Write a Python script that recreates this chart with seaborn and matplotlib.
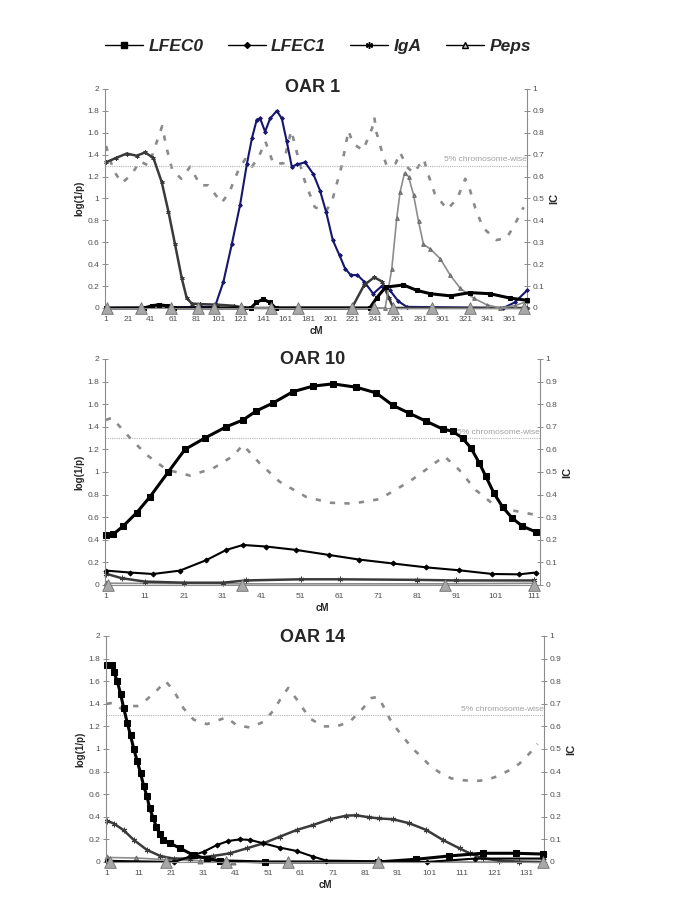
import numpy as np
import matplotlib
matplotlib.use('Agg')
import matplotlib.pyplot as plt
import seaborn as sns
from matplotlib.lines import Line2D
from matplotlib.ticker import FormatStrFormatter

sns.set_style('white')
plt.rcParams['font.family'] = ['Liberation Sans', 'DejaVu Sans']

# ---------------- OAR 1 ----------------
oar1_markers = [2, 32, 59, 83, 97, 121, 148, 172, 220, 240, 257, 291, 325, 373]
oar1_lfec0_cm = [1, 35, 42, 48, 55, 62, 130, 135, 141, 147, 152, 236, 242, 250, 266, 278, 290, 308, 325, 343, 361, 376]
oar1_lfec0 = [0, 0, 0.02, 0.03, 0.02, 0, 0, 0.05, 0.08, 0.05, 0, 0, 0.09, 0.19, 0.21, 0.16, 0.13, 0.11, 0.14, 0.13, 0.09, 0.07]
oar1_lfec1_cm = [1, 98, 105.6, 113, 120.4, 126.4, 131, 135.3, 138.3, 142.7, 147.2, 153.1, 157.6, 162, 166.5, 171,
                 178.4, 185.8, 191.7, 197, 203, 209, 214, 219, 225, 231, 239, 246.7, 254, 261.5, 269, 355, 365, 376]
oar1_lfec1 = [0, 0.01, 0.24, 0.58, 0.94, 1.31, 1.55, 1.72, 1.73, 1.61, 1.73, 1.80, 1.73, 1.52, 1.29, 1.31,
              1.33, 1.22, 1.07, 0.88, 0.62, 0.48, 0.36, 0.30, 0.30, 0.24, 0.13, 0.20, 0.16, 0.06, 0.01, 0, 0.05, 0.16]
oar1_iga_cm = [1, 10, 19.4, 28.3, 35.8, 43.2, 50.6, 56.6, 62.5, 68.5, 72.9, 77.4, 85, 100, 115, 125,
               220, 231, 240, 247, 253, 257, 376]
oar1_iga = [1.33, 1.37, 1.41, 1.39, 1.42, 1.37, 1.15, 0.88, 0.58, 0.27, 0.09, 0.04, 0.035, 0.03, 0.02, 0,
            0, 0.21, 0.28, 0.24, 0.09, 0, 0]
oar1_peps_cm = [1, 249.7, 255.6, 260, 263, 266.9, 270.5, 275, 279.4, 283.8, 289.8, 298.7, 307.6, 316.5,
                328.4, 340, 352, 365, 376]
oar1_peps = [0, 0, 0.36, 0.82, 1.06, 1.23, 1.20, 1.03, 0.79, 0.58, 0.54, 0.45, 0.30, 0.18,
             0.09, 0.03, 0, 0.02, 0.06]
oar1_ic_cm = [1, 7.5, 15, 24, 31, 39, 45, 51, 55, 60, 68, 76, 85, 92, 98, 104, 111, 119, 125, 131, 137, 143,
              150, 159, 166, 171, 178, 187, 197, 203, 211, 217, 221, 230, 238, 240, 242, 247, 251, 259, 263,
              269, 275, 284, 288, 294, 305, 314, 321, 324, 330, 337, 349, 358, 365, 373]
oar1_ic = [0.74, 0.63, 0.57, 0.61, 0.67, 0.65, 0.74, 0.83, 0.73, 0.63, 0.59, 0.645, 0.56, 0.56, 0.52, 0.48,
           0.53, 0.63, 0.68, 0.645, 0.69, 0.76, 0.66, 0.66, 0.81, 0.71, 0.58, 0.46, 0.44, 0.5, 0.65, 0.81,
           0.75, 0.72, 0.82, 0.87, 0.80, 0.71, 0.65, 0.66, 0.71, 0.645, 0.615, 0.68, 0.61, 0.52, 0.45, 0.50,
           0.59, 0.56, 0.455, 0.365, 0.31, 0.32, 0.38, 0.46]

# ---------------- OAR 10 ----------------
oar10_markers = [1.5, 36, 88, 111]
oar10_lfec0_cm = [1, 2.9, 5.4, 8.9, 12.3, 17, 21.3, 26.4, 31.9, 36.2, 39.6, 43.9, 49, 54.2, 59.3, 65.3, 70.4,
                  74.7, 78.9, 83.2, 87.5, 90.1, 92.6, 94.8, 96.9, 98.6, 100.7, 102.9, 105.4, 108, 111.4]
oar10_lfec0 = [0.44, 0.45, 0.52, 0.64, 0.78, 1.0, 1.2, 1.3, 1.4, 1.46, 1.54, 1.61, 1.71, 1.76, 1.78, 1.75, 1.70,
               1.59, 1.52, 1.45, 1.38, 1.36, 1.30, 1.21, 1.08, 0.96, 0.81, 0.69, 0.59, 0.52, 0.47]
oar10_lfec1_cm = [1, 7.2, 13.1, 20, 26.8, 31.9, 36.2, 42.2, 49.9, 58.4, 66, 74.7, 83.2, 91.7, 100.3, 107.1, 111.4]
oar10_lfec1 = [0.127, 0.11, 0.097, 0.127, 0.22, 0.31, 0.354, 0.34, 0.31, 0.265, 0.225, 0.19, 0.156, 0.13,
               0.097, 0.094, 0.11]
oar10_iga_cm = [1, 5, 11, 21, 31, 37, 51, 61, 81, 91, 111]
oar10_iga = [0.10, 0.06, 0.03, 0.02, 0.02, 0.04, 0.05, 0.05, 0.045, 0.04, 0.04]
oar10_peps_cm = [1, 36, 88, 111]
oar10_peps = [0.015, 0.01, 0.01, 0.015]
oar10_ic_cm = [1, 2.5, 7.2, 11.5, 16.6, 22.6, 28.5, 33.6, 36.2, 40.4, 45.6, 52.4, 58.4, 64.4, 71.3, 78.9,
               84, 87.9, 91.7, 96, 100.3, 105.4, 111.4]
oar10_ic = [0.73, 0.74, 0.65, 0.575, 0.51, 0.484, 0.516, 0.57, 0.62, 0.54, 0.457, 0.39, 0.364, 0.36, 0.38,
            0.457, 0.52, 0.57, 0.51, 0.42, 0.36, 0.33, 0.31]

# ---------------- OAR 14 ----------------
oar14_markers = [2, 19.5, 38, 57, 85, 136]
oar14_lfec0_cm = [1, 2.75, 3.25, 4.3, 5.3, 6.3, 7.4, 8.4, 9.4, 10.5, 11.5, 12.5, 13.5, 14.3, 15.4, 16.4, 17.4,
                  18.5, 20.7, 23.8, 27.9, 32, 36.2, 50, 85, 96.8, 107, 117.3, 127.6, 136]
oar14_lfec0 = [1.74, 1.74, 1.68, 1.60, 1.49, 1.36, 1.23, 1.12, 1.0, 0.89, 0.785, 0.67, 0.58, 0.475, 0.39, 0.31,
               0.25, 0.195, 0.165, 0.12, 0.06, 0.03, 0.01, 0, 0, 0.024, 0.053, 0.077, 0.077, 0.07]
oar14_lfec1_cm = [1, 22, 26.9, 31, 35.1, 38.7, 42.3, 45.4, 49.5, 54.6, 59.8, 64.9, 69, 100, 115, 136]
oar14_lfec1 = [0.01, 0, 0.05, 0.09, 0.15, 0.186, 0.2, 0.195, 0.165, 0.127, 0.097, 0.047, 0.012, 0, 0.03, 0.03]
oar14_iga_cm = [1, 3.25, 6.3, 9.4, 13.5, 17.6, 21.7, 26.9, 34, 39.2, 44.3, 49.5, 54.6, 59.8, 64.9, 70, 75.2,
                78.2, 82.3, 85.4, 89.6, 94.7, 99.9, 105, 110.2, 113.3, 117.4, 122.5, 128.7, 136]
oar14_iga = [0.366, 0.34, 0.28, 0.195, 0.106, 0.053, 0.03, 0.03, 0.053, 0.077, 0.12, 0.165, 0.224, 0.283,
             0.327, 0.378, 0.41, 0.413, 0.395, 0.385, 0.378, 0.342, 0.283, 0.195, 0.12, 0.077, 0.032, 0.012,
             0.003, 0]
oar14_peps_cm = [1, 10, 20, 30, 40, 136]
oar14_peps = [0.04, 0.035, 0.02, 0.01, 0, 0]
oar14_ic_cm = [1, 3.25, 5.3, 7.4, 10.5, 13.5, 16.6, 19.2, 21.7, 24.8, 27.9, 32, 36.1, 38.1, 41.2, 45.4, 49.5,
               52.6, 55.6, 57.2, 59.8, 63.9, 68, 72.1, 76.2, 80.3, 83, 85, 87.1, 88.6, 90.7, 93.2, 95.8, 98.4,
               100.9, 104, 107.6, 111.2, 114.8, 118.4, 122, 125.6, 128.7, 131.8, 134.3]
oar14_ic = [0.70, 0.705, 0.68, 0.69, 0.69, 0.72, 0.76, 0.80, 0.76, 0.68, 0.63, 0.61, 0.63, 0.64, 0.605, 0.595,
            0.62, 0.67, 0.74, 0.77, 0.72, 0.635, 0.60, 0.60, 0.62, 0.68, 0.726, 0.73, 0.677, 0.633, 0.59, 0.545,
            0.50, 0.465, 0.428, 0.396, 0.37, 0.362, 0.358, 0.362, 0.38, 0.406, 0.435, 0.48, 0.523]

threshold = 1.3

styles = {
    'LFEC0': dict(color='black', marker='s', markersize=4, linewidth=2.2, markeredgecolor='black'),
    'LFEC1': dict(color='black', marker='D', markersize=2.5, linewidth=1.5, markeredgecolor='black'),
    'IgA': dict(color='#3a3a3a', marker=(6, 2, 0), markersize=4, linewidth=1.8, markeredgecolor='#3a3a3a'),
    'Peps': dict(color='#8c8c8c', marker='^', markersize=3.5, linewidth=1.2, markeredgecolor='#6a6a6a'),
}


def draw_panel(ax, series, ic_cm, ic, markers, xlim, xticks, navy=False, ms_scale=1.0):
    ax2 = ax.twinx()
    sns.lineplot(x=ic_cm, y=ic, ax=ax2, color='#8a8a8a', linewidth=1.9,
                 linestyle=(0, (2, 3.5)), legend=False)
    ax.axhline(threshold, color='#b5b5b5', lw=0.8, ls=(0, (1, 1)))
    ax.text(xlim[1], threshold + 0.02, '5% chromosome-wise', ha='right', va='bottom',
            fontsize=6, color='#a0a0a0')
    for name, (x, y) in series.items():
        st = dict(styles[name])
        st['markersize'] *= ms_scale
        if navy and name == 'LFEC1':
            st['color'] = '#16166e'
            st['markeredgecolor'] = '#16166e'
        sns.lineplot(x=x, y=y, ax=ax, legend=False, clip_on=False, **st)
    sns.scatterplot(x=markers, y=[0] * len(markers), ax=ax, marker='^', s=70, color='#a8a8a8',
                    edgecolor='#6e6e6e', linewidth=0.6, zorder=5, clip_on=False, legend=False)

    ax.set_zorder(ax2.get_zorder() + 1)
    ax.patch.set_visible(False)
    ax.set_xlim(*xlim)
    ax.set_ylim(0, 2)
    ax2.set_ylim(0, 1)
    ax.set_xticks(xticks)
    ax.set_yticks(np.arange(0, 2.01, 0.2))
    ax2.set_yticks(np.arange(0, 1.01, 0.1))
    ax.yaxis.set_major_formatter(FormatStrFormatter('%g'))
    ax2.yaxis.set_major_formatter(FormatStrFormatter('%g'))
    for a in (ax, ax2):
        for s in a.spines.values():
            s.set_color('#8c8c8c')
            s.set_linewidth(0.8)
        a.spines['top'].set_visible(False)
    ax.spines['right'].set_visible(False)
    ax2.spines['left'].set_visible(False)
    ax2.spines['bottom'].set_visible(False)
    ax.tick_params(axis='y', direction='inout', length=4, width=0.7, color='#8c8c8c',
                   labelsize=6, labelcolor='#505050', pad=2)
    ax2.tick_params(axis='y', direction='inout', length=4, width=0.7, color='#8c8c8c',
                    labelsize=6, labelcolor='#505050', pad=2)
    ax.tick_params(axis='x', length=0, labelsize=6, labelcolor='#505050', pad=6)
    ax.set_xlabel('cM', fontsize=7, fontweight='bold', labelpad=2)
    ax.set_ylabel('log(1/p)', fontsize=7, fontweight='bold')
    ax.yaxis.set_label_coords(-0.048, 0.5)
    ax2.set_ylabel('IC', fontsize=8, fontweight='bold', rotation=90)
    ax2.yaxis.set_label_coords(1.052, 0.5)
    return ax2


fig = plt.figure(figsize=(6.85, 9.13), dpi=100)
ax1 = fig.add_axes([0.1533, 0.6627, 0.616, 0.2399])
ax10 = fig.add_axes([0.1533, 0.3593, 0.635, 0.2475])
ax14 = fig.add_axes([0.1547, 0.0559, 0.6394, 0.2475])

draw_panel(ax1, {'LFEC1': (oar1_lfec1_cm, oar1_lfec1), 'IgA': (oar1_iga_cm, oar1_iga),
                 'Peps': (oar1_peps_cm, oar1_peps), 'LFEC0': (oar1_lfec0_cm, oar1_lfec0)},
           oar1_ic_cm, oar1_ic, oar1_markers, (0.1, 376), np.arange(1, 362, 20), navy=True, ms_scale=0.75)
draw_panel(ax10, {'Peps': (oar10_peps_cm, oar10_peps), 'IgA': (oar10_iga_cm, oar10_iga),
                  'LFEC1': (oar10_lfec1_cm, oar10_lfec1), 'LFEC0': (oar10_lfec0_cm, oar10_lfec0)},
           oar10_ic_cm, oar10_ic, oar10_markers, (0.75, 112.5), np.arange(1, 112, 10))
draw_panel(ax14, {'Peps': (oar14_peps_cm, oar14_peps), 'IgA': (oar14_iga_cm, oar14_iga),
                  'LFEC1': (oar14_lfec1_cm, oar14_lfec1), 'LFEC0': (oar14_lfec0_cm, oar14_lfec0)},
           oar14_ic_cm, oar14_ic, oar14_markers, (0.8, 136.3), np.arange(1, 132, 10))

for y, t in [(0.9047, 'OAR 1'), (0.6057, 'OAR 10'), (0.3023, 'OAR 14')]:
    fig.text(0.457, y, t, ha='center', va='center', fontsize=13, fontweight='bold')

handles = [Line2D([], [], color='black', lw=1, marker='s', ms=5),
           Line2D([], [], color='black', lw=1, marker='D', ms=3),
           Line2D([], [], color='black', lw=1, marker=(6, 2, 0), ms=5),
           Line2D([], [], color='black', lw=1, marker='^', ms=4, markerfacecolor='#bbbbbb')]
fig.legend(handles, ['LFEC0', 'LFEC1', 'IgA', 'Peps'], loc='center', bbox_to_anchor=(0.464, 0.949),
           ncol=4, frameon=False, prop=dict(weight='bold', style='italic', size=12.5),
           handlelength=2.2, columnspacing=1.4, handletextpad=0.3, numpoints=1)

fig.savefig('out.png', dpi=100)
